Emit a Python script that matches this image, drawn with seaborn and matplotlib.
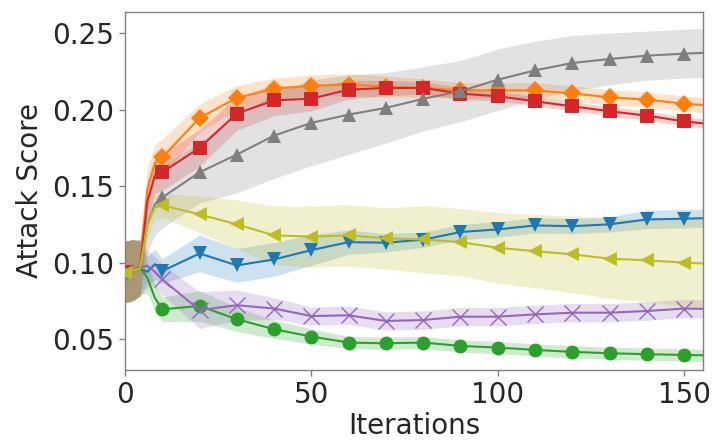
import numpy as np
import pandas as pd
import seaborn as sns
import matplotlib
matplotlib.use("Agg")
import matplotlib.pyplot as plt

iters = [0, 2, 4, 6, 8, 10, 20, 30, 40, 50, 60, 70, 80, 90, 100,
         110, 120, 130, 140, 150, 155]

# mean attack score per series
blue_mean = [0.094, 0.095, 0.096, 0.094, 0.099, 0.0945, 0.106, 0.0982, 0.1021, 0.1082, 0.1134,
             0.113, 0.115, 0.12, 0.1217, 0.1243, 0.1238, 0.125, 0.1282, 0.1287, 0.129]
orange_mean = [0.094, 0.095, 0.096, 0.148, 0.165, 0.1687, 0.1945, 0.2076, 0.2135, 0.2156, 0.2163,
               0.215, 0.214, 0.2126, 0.2125, 0.2125, 0.2105, 0.208, 0.2065, 0.2038, 0.203]
green_mean = [0.094, 0.095, 0.097, 0.09, 0.077, 0.0695, 0.0717, 0.063, 0.0565, 0.0517, 0.0478,
              0.0473, 0.0478, 0.0456, 0.0445, 0.043, 0.0417, 0.0408, 0.0402, 0.0397, 0.0395]
red_mean = [0.094, 0.095, 0.096, 0.14, 0.157, 0.159, 0.175, 0.1974, 0.206, 0.2071, 0.213,
            0.2141, 0.2141, 0.2104, 0.2087, 0.2054, 0.2021, 0.1989, 0.196, 0.1923, 0.191]
purple_mean = [0.094, 0.095, 0.097, 0.098, 0.094, 0.089, 0.069, 0.0722, 0.070, 0.0651, 0.0656,
               0.0619, 0.0625, 0.0647, 0.0647, 0.0662, 0.0673, 0.0673, 0.0684, 0.070, 0.0698]
gray_mean = [0.094, 0.095, 0.096, 0.125, 0.138, 0.1426, 0.159, 0.1706, 0.183, 0.1913, 0.1967,
             0.2011, 0.207, 0.212, 0.2195, 0.2256, 0.2304, 0.233, 0.2352, 0.2365, 0.237]
olive_mean = [0.093, 0.095, 0.096, 0.125, 0.136, 0.1375, 0.1315, 0.125, 0.1178, 0.117, 0.1178,
              0.1158, 0.1152, 0.1134, 0.1097, 0.1075, 0.1054, 0.1026, 0.1015, 0.100, 0.0995]

# half-width of the shaded band
blue_sd = [0.02, 0.02, 0.018, 0.01, 0.01, 0.008, 0.012, 0.011, 0.011, 0.01, 0.008,
           0.006, 0.005, 0.005, 0.005, 0.005, 0.005, 0.005, 0.006, 0.006, 0.006]
orange_sd = [0.02, 0.02, 0.018, 0.014, 0.012, 0.012, 0.009, 0.008, 0.007, 0.007, 0.007,
             0.007, 0.006, 0.005, 0.005, 0.005, 0.005, 0.005, 0.005, 0.005, 0.005]
green_sd = [0.02, 0.02, 0.018, 0.01, 0.009, 0.008, 0.01, 0.008, 0.006, 0.005, 0.004,
            0.004, 0.004, 0.004, 0.004, 0.004, 0.004, 0.004, 0.004, 0.004, 0.004]
red_sd = [0.02, 0.02, 0.018, 0.014, 0.012, 0.012, 0.012, 0.011, 0.01, 0.008, 0.006,
          0.005, 0.004, 0.004, 0.003, 0.003, 0.003, 0.003, 0.003, 0.003, 0.003]
purple_sd = [0.02, 0.02, 0.018, 0.01, 0.01, 0.01, 0.012, 0.01, 0.007, 0.006, 0.006,
             0.006, 0.006, 0.006, 0.006, 0.006, 0.006, 0.006, 0.006, 0.006, 0.006]
gray_sd = [0.02, 0.02, 0.018, 0.018, 0.02, 0.02, 0.02, 0.025, 0.028, 0.028, 0.026,
           0.023, 0.021, 0.02, 0.02, 0.019, 0.018, 0.017, 0.016, 0.016, 0.016]
olive_sd = [0.02, 0.02, 0.018, 0.009, 0.008, 0.008, 0.012, 0.016, 0.019, 0.02, 0.02,
            0.02, 0.022, 0.022, 0.023, 0.024, 0.025, 0.026, 0.027, 0.029, 0.029]

series = [
    (blue_mean, blue_sd, "tab:blue", "v", 10),
    (orange_mean, orange_sd, "tab:orange", "D", 9),
    (green_mean, green_sd, "tab:green", "o", 10),
    (red_mean, red_sd, "tab:red", "s", 10),
    (purple_mean, purple_sd, "tab:purple", "x", 11),
    (gray_mean, gray_sd, "tab:gray", "^", 10),
    (olive_mean, olive_sd, "tab:olive", "<", 10),
]

sns.set_style("white")
plt.rcParams["font.family"] = ["DejaVu Sans"]

fig = plt.figure(figsize=(7.12, 4.45), dpi=100)
ax = fig.add_axes([0.1756, 0.169, 0.8114, 0.805])

x = np.array(iters)
marks = [i for i, v in enumerate(iters) if v % 10 == 0]

for k, (m, sd, col, mk, ms) in enumerate(series):
    m = np.array(m)
    sd = np.array(sd)
    ax.fill_between(x, m - sd, m + sd, color=col, alpha=0.22, linewidth=0, zorder=1 + k)
    sns.lineplot(x=x, y=m, ax=ax, color=col, marker=mk, markersize=ms,
                 markevery=marks, linewidth=1.5, markeredgewidth=1.0 if mk == "x" else 0,
                 markeredgecolor=col, zorder=10 + k)

ax.set_xlim(0, 155)
ax.set_ylim(0.030, 0.264)
ax.set_xticks([0, 50, 100, 150])
ax.set_yticks([0.05, 0.10, 0.15, 0.20, 0.25])
ax.set_yticklabels(["0.05", "0.10", "0.15", "0.20", "0.25"])
ax.set_xlabel("Iterations", fontsize=20, labelpad=2)
ax.set_ylabel("Attack Score", fontsize=20, labelpad=6)
ax.tick_params(axis="both", labelsize=20, length=4, width=1, color="#808080",
               left=True, bottom=True, pad=4)
for s in ax.spines.values():
    s.set_color("#808080")
    s.set_linewidth(1.0)

fig.savefig("out.png", dpi=100)
